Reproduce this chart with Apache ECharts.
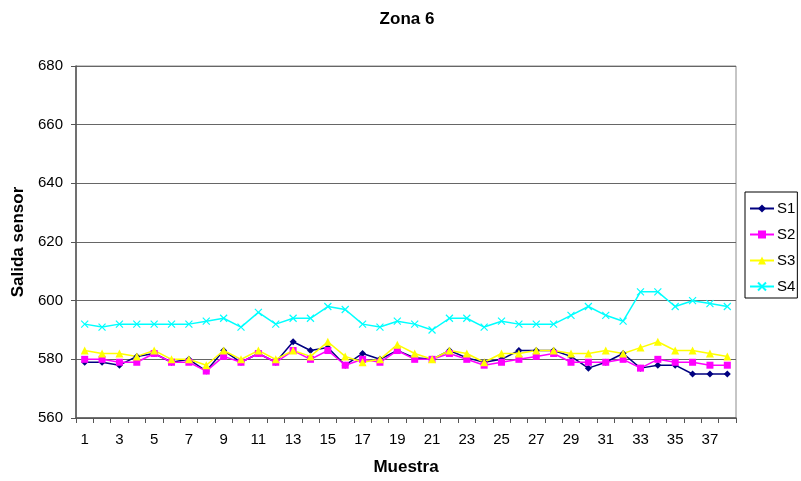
<!DOCTYPE html>
<html>
<head>
<meta charset="utf-8">
<script src="https://cdn.jsdelivr.net/npm/echarts@6/dist/echarts.min.js"></script>
<style>html,body{margin:0;padding:0;background:#fff}#chart{width:801px;height:481px}</style>
</head>
<body>
<div id="chart"></div>
<script>
// Sample index (Muestra) 1..38
const muestras = ['1','2','3','4','5','6','7','8','9','10','11','12','13','14','15','16','17','18','19','20','21','22','23','24','25','26','27','28','29','30','31','32','33','34','35','36','37','38'];

// Sensor outputs per sample
const s1 = [579,579,578,581,582,579,580,576,583,579,582,579,586,583,584,578,582,580,583,580.5,580,583,580.5,579,580,583,583,583,581,577,579,582,577,578,578,575,575,575];
const s2 = [580,580,579,579,582,579,579,576,581,579,582,579,583,580,583,578,580,579,583,580,580,582,580,578,579,580,581,582,579,579,579,580,577,580,579,579,578,578];
const s3 = [583,582,582,581,583,580,580,578,583,580,583,580,583,581,586,581,579,580,585,582,580,583,582,579,582,582,583,583,582,582,583,582,584,586,583,583,582,581];
const s4 = [592,591,592,592,592,592,592,593,594,591,596,592,594,594,598,597,592,591,593,592,590,594,594,591,593,592,592,592,595,598,595,593,603,603,598,600,599,598];

const yTicks = {min: 560, max: 680, interval: 20};

const font = 'Liberation Sans, Arial, sans-serif';
const chart = echarts.init(document.getElementById('chart'));

function line(name, data, color, symbol, size, extra) {
  return Object.assign({
    name, type: 'line', data,
    symbol, symbolSize: size, showSymbol: true,
    lineStyle: {color, width: 1.5},
    itemStyle: {color, borderColor: color, borderWidth: 0},
    animation: false
  }, extra || {});
}

chart.setOption({
  animation: false,
  title: {
    text: 'Zona 6', left: 402, top: 6, textAlign: 'center',
    textStyle: {fontFamily: font, fontSize: 17, fontWeight: 'bold', color: '#000'}
  },
  grid: {left: 76, right: 65, top: 66, bottom: 61, show: true, borderColor: '#8c8c8c', borderWidth: 1},
  legend: {
    orient: 'vertical', left: 745, top: 192,
    padding: [9, 2, 4, 4], itemGap: 11, itemWidth: 24, itemHeight: 10,
    borderColor: '#000', borderWidth: 1,
    textStyle: {fontFamily: font, fontSize: 15, color: '#000', padding: [0, 0, 0, -2]},
    data: ['S1', 'S2', 'S3', 'S4']
  },
  xAxis: {
    type: 'category', data: muestras, boundaryGap: true,
    name: 'Muestra', nameLocation: 'middle', nameGap: 41,
    nameTextStyle: {fontFamily: font, fontSize: 17, fontWeight: 'bold', color: '#000'},
    axisLine: {lineStyle: {color: '#555', width: 1.5}},
    axisTick: {show: true, length: 5, interval: 0, alignWithLabel: false, lineStyle: {color: '#555'}},
    axisLabel: {interval: 1, margin: 14, fontFamily: font, fontSize: 15, color: '#000'},
    splitLine: {show: false}
  },
  yAxis: {
    type: 'value', min: yTicks.min, max: yTicks.max, interval: yTicks.interval,
    name: 'Salida sensor', nameLocation: 'middle', nameGap: 46, nameRotate: 90,
    nameTextStyle: {fontFamily: font, fontSize: 17, fontWeight: 'bold', color: '#000'},
    axisLine: {show: true, lineStyle: {color: '#555', width: 1.5}},
    axisTick: {show: true, length: 5, lineStyle: {color: '#555'}},
    axisLabel: {margin: 13, fontFamily: font, fontSize: 15, color: '#000'},
    splitLine: {show: true, lineStyle: {color: '#666', width: 1}}
  },
  series: [
    line('S1', s1, '#000080', 'diamond', 7),
    line('S2', s2, '#FF00FF', 'rect', 7),
    line('S3', s3, '#FFFF00', 'triangle', 8),
    line('S4', s4, '#00FFFF', 'path://M0,0L10,10M10,0L0,10', 7,
      {itemStyle: {color: 'none', borderColor: '#00FFFF', borderWidth: 1.2}})
  ]
});
</script>
</body>
</html>
